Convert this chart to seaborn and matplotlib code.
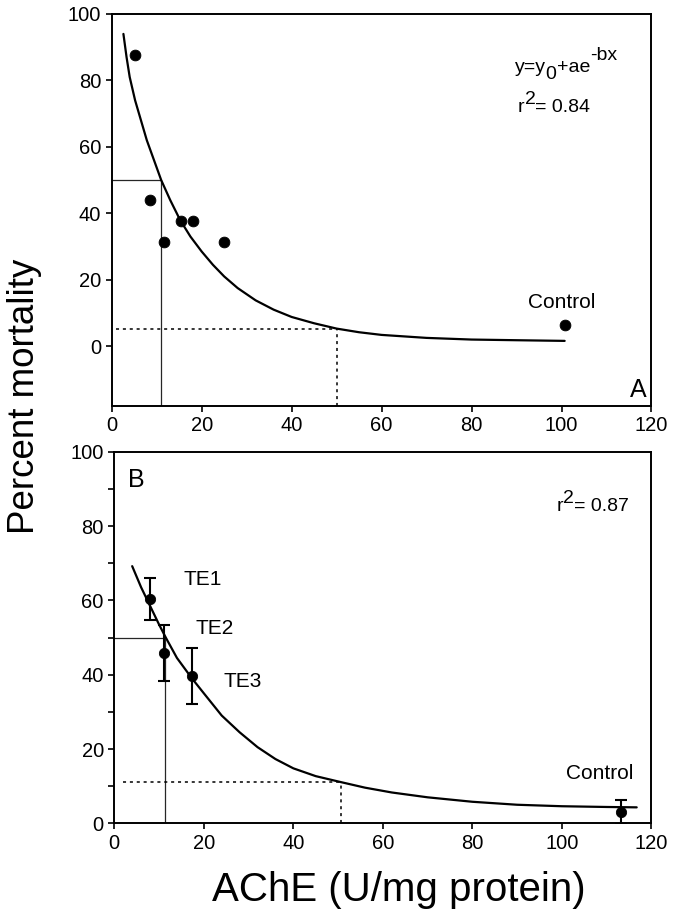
import numpy as np
import pandas as pd
import matplotlib
matplotlib.use("Agg")
import matplotlib.pyplot as plt
import seaborn as sns

# panel A: single observations
a_ache = [5.2, 8.6, 11.6, 15.3, 18.1, 25.0, 100.7]
a_mort = [87.7, 43.9, 31.4, 37.6, 37.6, 31.4, 6.4]

# panel A: fitted curve
a_fit_x = [2.6, 3.3, 4.0, 5.2, 6.5, 7.8, 9.4, 11.0, 13.0, 15.2, 17.5, 20.0, 22.5,
           25.0, 28.0, 32.0, 36.0, 40.0, 45.0, 50.0, 55.0, 60.0, 70.0, 80.0, 90.0, 100.7]
a_fit_y = [94.0, 87.0, 81.0, 74.0, 68.0, 62.0, 56.0, 50.0, 44.0, 38.0, 33.0, 28.5, 24.5,
           21.0, 17.5, 13.8, 11.0, 8.8, 6.9, 5.3, 4.2, 3.4, 2.5, 2.0, 1.8, 1.6]

# panel B: treatment means with error
b_labels = ["TE1", "TE2", "TE3", "Control"]
b_ache = [8.0, 11.1, 17.35, 113.1]
b_mort = [60.3, 45.9, 39.7, 3.1]
b_err = [5.6, 7.5, 7.5, 3.3]

b_fit_x = [4.0, 6.0, 8.0, 10.0, 11.5, 14.0, 17.35, 20.0, 24.0, 28.0, 32.0, 36.0, 40.0,
           45.0, 50.6, 56.0, 62.0, 70.0, 80.0, 90.0, 100.0, 110.0, 116.7]
b_fit_y = [69.2, 63.5, 58.5, 53.5, 50.0, 44.5, 39.0, 35.0, 29.0, 24.5, 20.5, 17.3, 14.8,
           12.7, 11.1, 9.6, 8.3, 7.0, 5.8, 5.0, 4.6, 4.4, 4.3]

# guide lines (x, y)
a_lc50 = (11.0, 50.0)
a_low = (50.0, 5.3)
b_lc50 = (11.3, 49.8)
b_low = (50.6, 11.1)

sns.set_style("ticks")
plt.rcParams["font.family"] = ["Liberation Sans", "DejaVu Sans"]
plt.rcParams["text.color"] = "black"


def rich_text(ax, x, y, parts, size):
    # parts: (string, rise in points); full-size sub/superscripts like the original
    prev = ax.text(x, y, parts[0][0], fontsize=size, va="baseline")
    last_rise = parts[0][1]
    for s, rise in parts[1:]:
        prev = ax.annotate(s, xy=(1, 0), xycoords=prev, xytext=(0, rise - last_rise),
                           textcoords="offset points", ha="left", va="bottom",
                           fontsize=size)
        last_rise = rise


fig = plt.figure(figsize=(6.73, 9.14), dpi=100)
ax_a = fig.add_axes([0.166, 0.5558, 0.802, 0.4289])
ax_b = fig.add_axes([0.1698, 0.0992, 0.7982, 0.4066])

df_a = pd.DataFrame({"ache": a_ache, "mort": a_mort})
fit_a = pd.DataFrame({"x": a_fit_x, "y": a_fit_y})
df_b = pd.DataFrame({"ache": b_ache, "mort": b_mort, "err": b_err, "label": b_labels})
fit_b = pd.DataFrame({"x": b_fit_x, "y": b_fit_y})

guide = dict(color="0.15", lw=0.9)
dotted = dict(color="black", lw=1.1, ls=(0, (2, 2.5)))

# ---- panel A
ax_a.plot([0, a_lc50[0]], [a_lc50[1], a_lc50[1]], **guide)
ax_a.plot([a_lc50[0], a_lc50[0]], [-18, a_lc50[1]], **guide)
ax_a.plot([1.0, a_low[0]], [a_low[1], a_low[1]], **dotted)
ax_a.plot([a_low[0], a_low[0]], [-18, a_low[1]], **dotted)
sns.lineplot(data=fit_a, x="x", y="y", sort=False, estimator=None, color="black",
             lw=1.6, ax=ax_a)
sns.scatterplot(data=df_a, x="ache", y="mort", color="black", s=60, edgecolor="black",
                zorder=5, ax=ax_a)
ax_a.set_xlim(0, 120)
ax_a.set_ylim(-18, 100)
ax_a.set_yticks(range(0, 101, 20))
rich_text(ax_a, 89.6, 82.5, [("y=y", 0), ("0", -5), ("+ae", 0), ("-bx", 9)], 14)
rich_text(ax_a, 90.3, 70.5, [("r", 0), ("2", 6), ("= 0.84", 0)], 14)
ax_a.text(100.0, 11.4, "Control", fontsize=15, ha="center")
ax_a.text(115.3, -15.2, "A", fontsize=18)

# ---- panel B
ax_b.plot([0, b_lc50[0]], [b_lc50[1], b_lc50[1]], **guide)
ax_b.plot([b_lc50[0], b_lc50[0]], [0, b_lc50[1]], **guide)
ax_b.plot([2.0, b_low[0]], [b_low[1], b_low[1]], **dotted)
ax_b.plot([b_low[0], b_low[0]], [0, b_low[1]], **dotted)
sns.lineplot(data=fit_b, x="x", y="y", sort=False, estimator=None, color="black",
             lw=1.6, ax=ax_b)
ax_b.errorbar(df_b["ache"], df_b["mort"], yerr=df_b["err"], fmt="none", ecolor="black",
              elinewidth=1.5, capsize=4, capthick=1.5, zorder=4)
sns.scatterplot(data=df_b, x="ache", y="mort", color="black", s=55, edgecolor="black",
                zorder=5, ax=ax_b)
ax_b.set_xlim(0, 120)
ax_b.set_ylim(0, 100)
ax_b.set_yticks(range(0, 101, 10))
ax_b.set_yticklabels([str(v) if v % 20 == 0 else "" for v in range(0, 101, 10)])
ax_b.text(3.1, 92.4, "B", fontsize=18, va="center")
label_pos = {"TE1": (15.4, 65.5), "TE2": (18.2, 52.3), "TE3": (24.5, 38.1),
             "Control": (101.0, 13.3)}
for lab in b_labels:
    lx, ly = label_pos[lab]
    ax_b.text(lx, ly, lab, fontsize=15, va="center")
rich_text(ax_b, 98.8, 84.0, [("r", 0), ("2", 6), ("= 0.87", 0)], 14)

for ax in (ax_a, ax_b):
    ax.set_xticks(range(0, 121, 20))
    ax.set_xlabel("")
    ax.set_ylabel("")
    ax.tick_params(labelsize=14.5, length=4.5, width=1.2, direction="out", pad=3,
                   colors="black")
    for sp in ax.spines.values():
        sp.set_linewidth(1.4)
        sp.set_color("black")
        sp.set_visible(True)

fig.text(0.593, 0.026, "AChE (U/mg protein)", fontsize=29, ha="center", va="center")
fig.text(0.036, 0.566, "Percent mortality", fontsize=26.5, rotation=90, ha="center",
         va="center")

fig.savefig("out.png", dpi=100)
